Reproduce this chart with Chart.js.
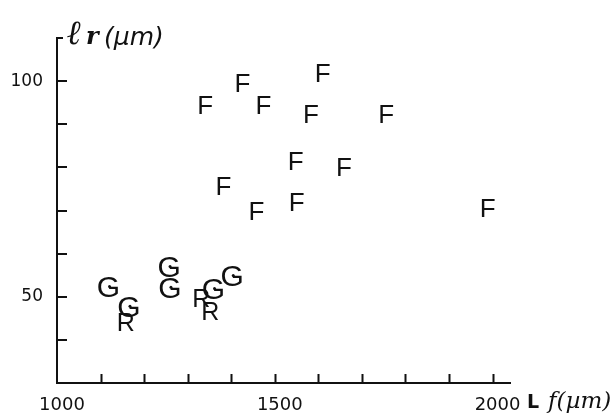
<!DOCTYPE html>
<html>
<head>
<meta charset="utf-8">
<script src="https://cdn.jsdelivr.net/npm/chart.js@4/dist/chart.umd.min.js"></script>
<style>
html,body{margin:0;padding:0;background:#fff;}
canvas{display:block;}
</style>
</head>
<body>
<canvas id="c" width="611" height="416"></canvas>
<script>
// ---- data ----
const xTickLabels = [1000, 1500, 2000];
const yTickLabels = [50, 100];

const fX = [1610, 1426, 1340, 1474, 1583, 1756, 1548, 1659, 1382, 1550, 1458, 1989];
const fY = [102.0, 99.7, 94.6, 94.6, 92.5, 92.5, 81.7, 80.1, 75.7, 72.2, 69.9, 70.8];

const gX = [1116, 1163, 1255, 1257, 1400, 1357];
const gY = [52.4, 47.8, 57.0, 52.2, 54.9, 51.9];

const rX = [1158, 1331, 1352];
const rY = [44.1, 49.8, 46.8];

const xTitleMain = "L";
const xTitleUnit = "f(µm)";
const yTitleMain = "ℓ";
const yTitleSub = "r";
const yTitleUnit = "(µm)";

function pts(xs, ys) { return xs.map((x, i) => ({x: x, y: ys[i]})); }

const INK = '#111';

const markerPlugin = {
  id: 'letterMarkers',
  afterDatasetsDraw(chart) {
    const ctx = chart.ctx;
    chart.data.datasets.forEach((ds, i) => {
      const meta = chart.getDatasetMeta(i);
      ctx.save();
      ctx.font = ds.glyphFont;
      ctx.fillStyle = INK;
      ctx.textAlign = 'center';
      ctx.textBaseline = 'alphabetic';
      meta.data.forEach(el => {
        ctx.fillText(ds.glyph, el.x + (ds.glyphDx || 0), el.y + ds.glyphCap / 2);
        if (ds.glyphDot) {
          ctx.beginPath();
          ctx.arc(el.x + 2, el.y, 1.5, 0, Math.PI * 2);
          ctx.fill();
        }
      });
      ctx.restore();
    });
  }
};

const axisPlugin = {
  id: 'innerTicksAndTitles',
  afterDraw(chart) {
    const ctx = chart.ctx;
    const xs = chart.scales.x, ys = chart.scales.y;
    ctx.save();
    ctx.strokeStyle = INK;
    ctx.lineWidth = 2;
    ctx.beginPath();
    xs.ticks.forEach(t => {
      if (t.value <= xs.min) return;
      const px = Math.round(xs.getPixelForValue(t.value)) + 0.5;
      ctx.moveTo(px, ys.bottom);
      ctx.lineTo(px, ys.bottom - 9);
    });
    ys.ticks.forEach(t => {
      if (t.value <= ys.min) return;
      const py = Math.round(ys.getPixelForValue(t.value));
      ctx.moveTo(xs.left, py);
      ctx.lineTo(xs.left + (t.value >= ys.max ? 6 : 10), py);
    });
    ctx.stroke();

    // y axis title
    ctx.fillStyle = INK;
    ctx.textAlign = 'left';
    ctx.textBaseline = 'alphabetic';
    const tx = xs.left + 10, tb = ys.top + 6;
    ctx.font = 'italic bold 34px "DejaVu Serif"';
    ctx.fillText(yTitleMain, tx, tb);
    ctx.font = 'italic bold 24px "DejaVu Serif"';
    ctx.fillText(yTitleSub, tx + 19, tb);
    ctx.font = 'italic 25px "DejaVu Sans"';
    ctx.fillText(yTitleUnit, tx + 37, tb + 1);

    // x axis title
    const bx = xs.right + 17, bb = ys.bottom + 25;
    ctx.font = 'bold 19px "DejaVu Sans"';
    ctx.fillText(xTitleMain, bx, bb);
    ctx.font = 'italic 23px "DejaVu Serif"';
    ctx.fillText(xTitleUnit, bx + 21, bb);
    ctx.restore();
  }
};

new Chart(document.getElementById('c'), {
  type: 'scatter',
  data: {
    datasets: [
      {label: 'F', data: pts(fX, fY), pointRadius: 0, pointHoverRadius: 0,
       glyph: 'F', glyphFont: '26px "Liberation Sans"', glyphCap: 19},
      {label: 'G', data: pts(gX, gY), pointRadius: 0, pointHoverRadius: 0,
       glyph: 'G', glyphFont: '30px "Liberation Sans"', glyphCap: 21, glyphDx: 1, glyphDot: true},
      {label: 'R', data: pts(rX, rY), pointRadius: 0, pointHoverRadius: 0,
       glyph: 'R', glyphFont: '25px "Liberation Sans"', glyphCap: 18}
    ]
  },
  options: {
    responsive: false,
    animation: false,
    layout: {padding: {left: 0, right: 101, top: 38, bottom: 0}},
    plugins: {legend: {display: false}, tooltip: {enabled: false}},
    scales: {
      x: {
        type: 'linear', min: 1000, max: 2040,
        afterFit(s) { s.height = 33; },
        afterBuildTicks(s) {
          const t = [];
          for (let v = 1000; v <= 2000; v += 100) t.push({value: v});
          s.ticks = t;
        },
        ticks: {
          color: INK, padding: 12, labelOffset: 5, maxRotation: 0, autoSkip: false,
          font: {family: 'DejaVu Sans', size: 18},
          callback: v => xTickLabels.includes(v) ? String(v) : ''
        },
        grid: {display: true, drawOnChartArea: false, drawTicks: false},
        border: {display: true, color: INK, width: 2}
      },
      y: {
        type: 'linear', min: 30, max: 110,
        afterFit(s) { s.width = 57; },
        ticks: {
          stepSize: 10, color: INK, padding: 14, autoSkip: false,
          font: {family: 'DejaVu Sans', size: 17},
          callback: v => yTickLabels.includes(v) ? String(v) : ''
        },
        grid: {display: true, drawOnChartArea: false, drawTicks: false},
        border: {display: true, color: INK, width: 2}
      }
    }
  },
  plugins: [markerPlugin, axisPlugin]
});
</script>
</body>
</html>
